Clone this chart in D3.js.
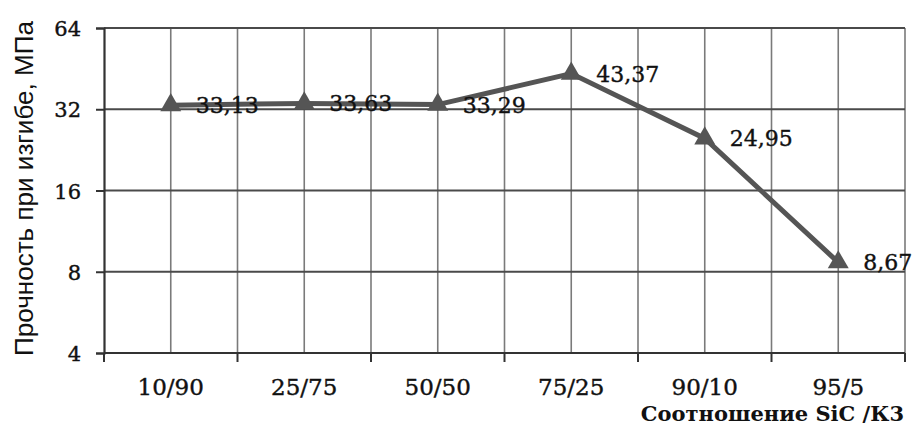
<!DOCTYPE html>
<html><head><meta charset="utf-8">
<script src="https://cdn.jsdelivr.net/npm/d3@7"></script>
<style>body{margin:0;background:#fff}svg{display:block}</style>
</head><body>
<svg id="c" width="914" height="428"></svg>
<script>
const categories = ["10/90","25/75","50/50","75/25","90/10","95/5"];
const values = [33.13, 33.63, 33.29, 43.37, 24.95, 8.67];
const valueLabels = ["33,13","33,63","33,29","43,37","24,95","8,67"];
const yTicks = [4, 8, 16, 32, 64];
const yTitle = "Прочность при изгибе, МПа";
const xTitle = "Соотношение SiC /К3";

const svg = d3.select("#c");
const L = 104, R = 905, T = 28, B = 353;
const x = d3.scaleBand().domain(categories).range([L, R]).paddingInner(0).paddingOuter(0);
const y = d3.scaleLog().base(2).domain([4, 64]).range([B, T]);
const cx = d => x(d) + x.bandwidth() / 2;

// vertical gridlines at category boundaries and centers
const vLines = [];
categories.forEach(c => { vLines.push(x(c)); vLines.push(cx(c)); });
vLines.push(R);
svg.append("g").selectAll("line").data(vLines.slice(1)).join("line")
  .attr("x1", d => d).attr("x2", d => d).attr("y1", T).attr("y2", B)
  .attr("stroke", "#7a7a7a").attr("stroke-width", 1.6);

// horizontal gridlines
svg.append("g").selectAll("line").data(yTicks.slice(1)).join("line")
  .attr("x1", L).attr("x2", R).attr("y1", d => y(d)).attr("y2", d => y(d))
  .attr("stroke", "#4a4a4a").attr("stroke-width", 1.8);

// y axis
const yAxis = d3.axisLeft(y).tickValues(yTicks).tickFormat(d3.format("d")).tickSize(8).tickPadding(15);
const gy = svg.append("g").attr("transform", `translate(${L},0)`).call(yAxis);
gy.select(".domain").attr("stroke", "#333").attr("stroke-width", 2.2);
gy.selectAll(".tick line").attr("stroke", "#333").attr("stroke-width", 2);
gy.selectAll(".tick text").attr("font-family", "DejaVu Serif").attr("font-size", 21).attr("fill", "#111")
  .attr("stroke", "#111").attr("stroke-width", 0.4).attr("dy", "0.36em");

// x axis
const boundaries = categories.map(c => x(c)).concat([R]);
const gx = svg.append("g").attr("transform", `translate(0,${B})`);
gx.append("line").attr("x1", L).attr("x2", R).attr("y1", 0).attr("y2", 0)
  .attr("stroke", "#333").attr("stroke-width", 2.2);
gx.selectAll("line.tk").data(boundaries).join("line").attr("class", "tk")
  .attr("x1", d => d).attr("x2", d => d).attr("y1", 0).attr("y2", 9)
  .attr("stroke", "#333").attr("stroke-width", 2);
gx.selectAll("text").data(categories).join("text")
  .attr("x", d => cx(d)).attr("y", 42).attr("text-anchor", "middle")
  .attr("font-family", "DejaVu Serif").attr("font-size", 23).attr("fill", "#111")
  .attr("stroke", "#111").attr("stroke-width", 0.4)
  .text(d => d);

// line
const pts = categories.map((c, i) => [cx(c), y(values[i])]);
svg.append("path").attr("d", d3.line()(pts)).attr("fill", "none")
  .attr("stroke", "#555").attr("stroke-width", 5).attr("stroke-linejoin", "miter");

// markers
svg.append("g").selectAll("path").data(pts).join("path")
  .attr("transform", d => `translate(${d[0]},${d[1]})`)
  .attr("d", d3.symbol().type(d3.symbolTriangle).size(190))
  .attr("fill", "#555");

// data labels
svg.append("g").selectAll("text").data(pts).join("text")
  .attr("x", d => d[0] + 25).attr("y", d => d[1]).attr("dy", "0.36em")
  .attr("font-family", "DejaVu Serif").attr("font-size", 22).attr("fill", "#111")
  .attr("stroke", "#111").attr("stroke-width", 0.4)
  .text((d, i) => valueLabels[i]);

// y title
svg.append("text").attr("transform", `translate(33,${(20 + 357) / 2}) rotate(-90)`)
  .attr("text-anchor", "middle").attr("font-family", "Liberation Sans").attr("font-size", 25)
  .attr("textLength", 335).attr("lengthAdjust", "spacingAndGlyphs")
  .attr("fill", "#111").text(yTitle);

// x title
svg.append("text").attr("x", 904).attr("y", 421).attr("text-anchor", "end")
  .attr("font-family", "DejaVu Serif").attr("font-weight", "bold").attr("font-size", 21)
  .attr("fill", "#111").text(xTitle);
</script>
</body></html>
